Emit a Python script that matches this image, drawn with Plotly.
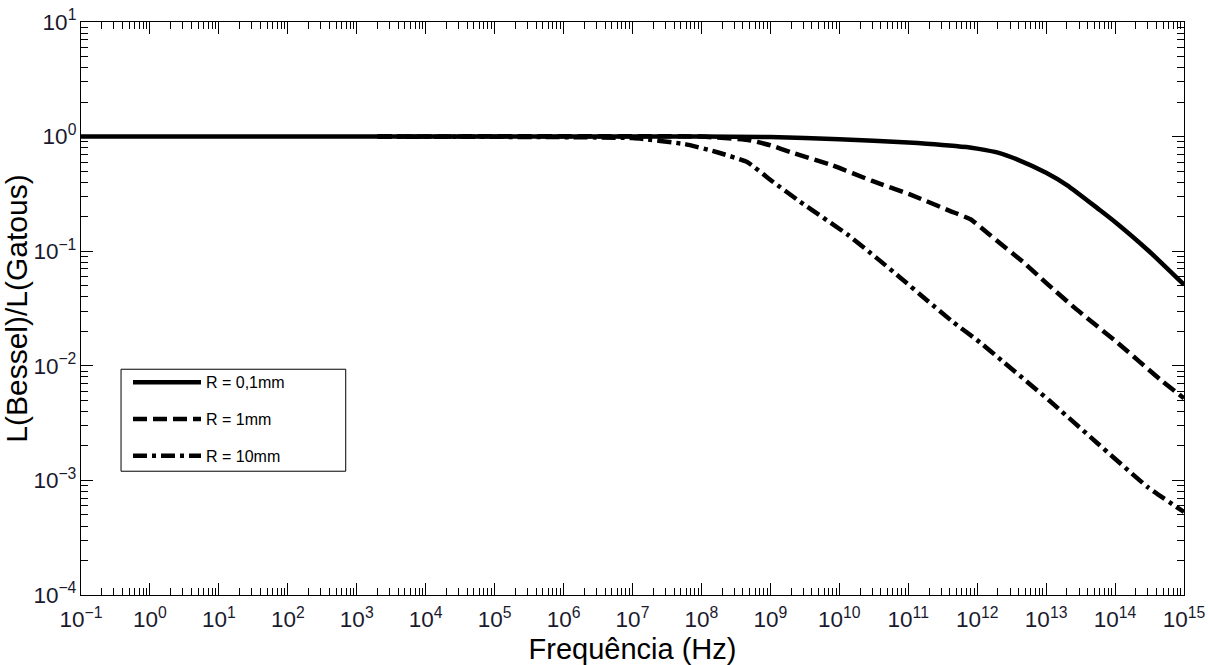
import plotly.graph_objects as go

# Data
freq_r01 = [1e-1, 1e8, 1e9, 1e10, 1e11, 7e11, 1e12, 2e12, 4e12, 1e13, 2e13, 6e13, 1e14, 3e14, 1e15]
ratio_r01 = [1.0, 1.0, 0.99, 0.95, 0.89, 0.81, 0.785, 0.724, 0.624, 0.484, 0.378, 0.229, 0.18,
             0.102, 0.051]

freq_r1 = [2e3, 1e8, 5e8, 1e9, 2e9, 8e9, 3e10, 1.1e11, 4e11, 8e11, 1.5e12, 4.8e12, 1e13,
           2.6e13, 1.1e14, 4.5e14, 1e15]
ratio_r1 = [1.0, 1.0, 0.93, 0.84, 0.73, 0.56, 0.41, 0.31, 0.225, 0.19, 0.14, 0.079, 0.053,
            0.032, 0.0158, 0.0076, 0.0052]

freq_r10 = [2e3, 1e7, 5.8e7, 1.7e8, 4.6e8, 1.05e9, 2.7e9, 1.35e10, 3.5e10, 7.6e10, 1.9e11,
            4.5e11, 1.1e12, 2.5e12, 1.1e13, 5.6e13, 3e14, 1e15]
ratio_r10 = [1.0, 0.97, 0.86, 0.73, 0.6, 0.41, 0.27, 0.138, 0.087, 0.059, 0.037,
             0.024, 0.016, 0.0106, 0.005, 0.0021, 0.00087, 0.00053]

series_names = ["R = 0,1mm", "R = 1mm", "R = 10mm"]

FONT = "Arial, Liberation Sans, sans-serif"

fig = go.Figure()
fig.add_trace(go.Scatter(x=freq_r01, y=ratio_r01, mode="lines", name=series_names[0],
                         legendgroup="a",
                         line=dict(color="black", width=4.5, shape="spline", smoothing=0.6)))
fig.add_trace(go.Scatter(x=freq_r1, y=ratio_r1, mode="lines", name=series_names[1],
                         legendgroup="b",
                         line=dict(color="black", width=4.5, dash="14px,6px",
                                   shape="spline", smoothing=0.4)))
fig.add_trace(go.Scatter(x=freq_r10, y=ratio_r10, mode="lines", name=series_names[2],
                         legendgroup="c",
                         line=dict(color="black", width=4.5, dash="14px,5px,4px,5px",
                                   shape="spline", smoothing=0.4)))

axis_common = dict(
    type="log",
    dtick=1,
    exponentformat="power",
    labelalias={"1": "10<sup>0</sup>", "10": "10<sup>1</sup>"},
    showgrid=False,
    zeroline=False,
    showline=True,
    linecolor="black",
    linewidth=1,
    mirror="allticks",
    ticks="inside",
    ticklen=12,
    tickwidth=1,
    tickcolor="black",
    automargin=False,
    ticklabeloverflow="allow",
    tickfont=dict(family=FONT, size=18, color="#1a1a2e"),
    minor=dict(ticks="inside", ticklen=7, tickwidth=1, tickcolor="black", showgrid=False),
)

fig.update_xaxes(range=[-1, 15],
                 ticklabelstandoff=5,
                 title=dict(text="Frequência (Hz)", font=dict(family=FONT, size=29, color="black"),
                            standoff=8),
                 **axis_common)
fig.update_yaxes(range=[-4, 1],
                 title=dict(text="L(Bessel)/L(Gatous)", font=dict(family=FONT, size=30, color="black"),
                            standoff=4),
                 **axis_common)

# legend frame
fig.add_shape(type="rect", xref="paper", yref="paper",
              x0=0.0363, x1=0.240, y0=0.216, y1=0.394,
              line=dict(color="black", width=1), fillcolor="white", layer="below")

fig.update_layout(
    width=1208,
    height=665,
    margin=dict(l=81, r=24, t=22, b=70),
    plot_bgcolor="white",
    paper_bgcolor="white",
    font=dict(family=FONT, color="black"),
    showlegend=True,
    legend=dict(
        x=0.0426, y=0.401, xanchor="left", yanchor="top",
        borderwidth=0, bgcolor="rgba(0,0,0,0)",
        font=dict(family=FONT, size=16, color="black"),
        tracegroupgap=13,
        traceorder="grouped",
        itemwidth=68,
    ),
)

fig.write_html("out.html",
               config={"displayModeBar": False},
               post_script="document.body.style.margin='0';document.body.style.overflow='hidden';")
